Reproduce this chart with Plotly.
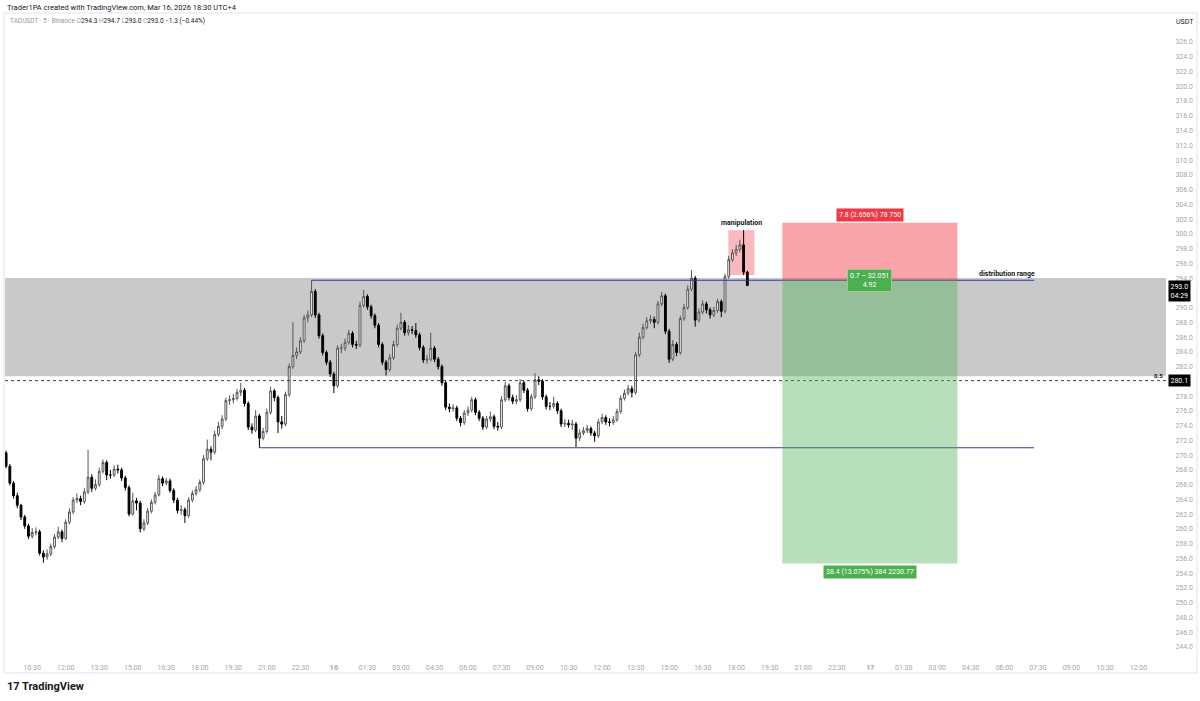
"""
TADUSDT 5m chart (Binance) - distribution range / manipulation short setup.
Recreated from a TradingView snapshot with Plotly.
"""

import pandas as pd
import plotly.graph_objects as go

# ---- candle data (10 minute bars) ----
bar_start = "2026-03-15 09:20"
bar_freq = "10min"

opens = [
    270.3, 268.5, 266.2, 264.5, 263.2, 261.6, 260.4, 259.0, 259.5, 259.6,
    256.7, 256.2, 256.6, 257.6, 258.9, 259.6, 258.7, 260.9, 262.3, 263.9,
    264.1, 263.7, 265.0, 267.0, 265.5, 266.0, 267.8, 269.0, 267.3, 267.3,
    268.1, 268.0, 266.9, 265.6, 262.0, 263.8, 263.5, 260.0, 260.8, 262.4,
    263.6, 264.6, 266.8, 266.2, 266.5, 265.2, 263.9, 262.5, 262.6, 261.8,
    263.9, 264.8, 265.3, 266.3, 269.5, 270.8, 270.4, 272.8, 273.9, 274.9,
    277.4, 277.5, 277.7, 278.5, 278.8, 277.0, 273.8, 273.4, 275.3, 272.3,
    273.2, 275.8, 278.7, 277.8, 274.5, 274.2, 278.2, 282.0, 283.5, 284.0,
    285.5, 288.6, 289.0, 292.2, 289.0, 286.2, 283.9, 282.6, 281.0, 279.4,
    284.5, 284.5, 285.3, 286.5, 285.0, 284.9, 290.3, 291.5, 290.1, 288.9,
    287.6, 285.0, 282.6, 281.6, 283.2, 285.0, 287.2, 288.0, 286.6, 287.0,
    286.9, 286.3, 284.6, 282.9, 283.0, 284.5, 283.0, 282.0, 279.8, 276.5,
    276.3, 276.4, 275.0, 274.4, 275.7, 276.1, 277.5, 275.8, 275.0, 273.8,
    274.9, 275.2, 273.9, 273.8, 277.5, 279.4, 277.8, 277.3, 277.5, 279.8,
    278.8, 276.3, 277.9, 280.2, 280.0, 277.9, 276.6, 276.6, 277.0, 276.0,
    274.2, 274.3, 274.1, 274.2, 272.3, 273.0, 273.3, 273.6, 273.0, 272.6,
    274.5, 275.1, 274.5, 274.4, 274.8, 275.9, 277.7, 278.4, 279.0, 278.5,
    283.6, 286.0, 287.3, 288.2, 288.4, 288.0, 290.5, 291.6, 286.8, 283.0,
    285.0, 283.9, 288.5, 290.0, 292.5, 294.0, 288.3, 289.4, 290.5, 289.7,
    289.0, 289.6, 290.8, 289.5, 294.2, 296.5, 297.4, 297.9, 298.5, 294.8,
]

highs = [
    270.6, 268.8, 266.5, 264.9, 263.4, 261.9, 260.7, 260.1, 260.2, 259.9,
    257.1, 257.2, 258.0, 259.3, 260.3, 259.9, 261.3, 262.8, 264.3, 264.8,
    264.5, 265.5, 270.7, 267.4, 266.7, 268.3, 269.4, 269.3, 268.0, 268.6,
    268.7, 268.3, 267.2, 265.9, 264.9, 264.2, 263.8, 261.3, 262.8, 264.0,
    265.0, 267.3, 267.1, 266.9, 266.8, 265.5, 264.2, 263.2, 262.9, 264.3,
    265.2, 265.8, 266.7, 270.0, 272.1, 271.2, 273.3, 274.5, 275.4, 277.8,
    278.1, 278.3, 279.0, 279.8, 279.1, 277.3, 274.3, 276.1, 275.6, 273.7,
    276.3, 279.3, 279.0, 278.1, 275.3, 278.6, 282.4, 288.0, 284.6, 286.0,
    289.0, 289.6, 293.7, 292.5, 289.3, 286.5, 284.2, 282.9, 281.3, 284.9,
    285.1, 285.8, 287.0, 286.8, 285.5, 290.8, 292.4, 291.8, 290.4, 289.2,
    287.9, 285.3, 282.9, 283.7, 285.5, 287.7, 289.3, 288.3, 287.6, 287.5,
    287.9, 286.6, 284.9, 283.6, 286.6, 284.8, 283.3, 282.3, 280.1, 277.0,
    276.9, 276.7, 275.3, 276.1, 276.6, 277.9, 277.8, 276.1, 275.3, 275.3,
    275.9, 275.5, 274.5, 278.0, 279.9, 279.7, 278.2, 278.1, 280.3, 280.1,
    279.1, 278.3, 281.1, 280.7, 280.3, 278.2, 277.2, 277.9, 277.3, 276.3,
    274.9, 274.8, 274.8, 274.5, 273.5, 273.8, 274.1, 273.9, 273.3, 274.9,
    275.6, 275.4, 275.0, 275.3, 276.3, 278.1, 278.9, 279.5, 279.4, 284.0,
    286.6, 287.8, 288.7, 289.0, 288.8, 290.9, 292.1, 291.9, 287.1, 285.6,
    285.3, 288.9, 290.5, 293.0, 295.1, 294.3, 289.9, 291.0, 290.8, 290.0,
    290.1, 291.2, 291.1, 294.6, 297.0, 297.9, 298.5, 299.2, 300.5, 295.0,
]

lows = [
    268.2, 265.9, 264.1, 262.8, 261.2, 260.0, 258.6, 258.7, 259.1, 256.4,
    255.4, 255.8, 256.3, 257.3, 258.6, 258.2, 258.5, 260.6, 262.0, 263.5,
    263.2, 263.4, 264.7, 265.0, 265.2, 265.7, 267.5, 266.6, 266.8, 267.0,
    267.5, 266.5, 265.2, 261.7, 261.8, 262.5, 259.5, 259.7, 260.5, 262.1,
    263.3, 264.4, 265.8, 265.9, 264.9, 263.5, 262.1, 261.9, 260.8, 261.5,
    263.6, 264.5, 265.0, 266.0, 269.2, 269.3, 270.1, 272.5, 273.5, 274.6,
    276.8, 277.0, 277.4, 278.0, 276.6, 273.4, 272.9, 273.1, 271.0, 272.0,
    272.9, 275.5, 277.3, 273.0, 273.6, 273.9, 277.9, 281.7, 283.0, 283.7,
    285.2, 288.0, 288.7, 288.6, 285.8, 283.5, 282.2, 280.6, 278.4, 279.1,
    283.8, 284.1, 285.0, 284.6, 284.4, 284.6, 290.0, 289.7, 288.5, 287.2,
    284.6, 282.2, 280.8, 281.3, 282.9, 284.7, 286.9, 286.2, 286.2, 286.4,
    285.9, 284.2, 282.5, 282.4, 282.7, 282.6, 281.6, 279.4, 276.1, 275.8,
    275.9, 274.6, 273.9, 274.1, 275.3, 275.8, 275.4, 274.6, 273.4, 273.5,
    274.5, 273.5, 273.3, 273.5, 277.2, 277.4, 276.9, 276.9, 277.2, 278.4,
    275.9, 276.0, 277.6, 279.5, 277.5, 276.2, 276.1, 276.3, 275.6, 273.8,
    273.8, 273.7, 273.4, 271.1, 271.9, 272.7, 273.0, 272.6, 271.8, 272.3,
    274.2, 274.1, 273.9, 274.1, 274.5, 275.6, 277.4, 278.1, 277.8, 278.2,
    283.3, 285.7, 287.0, 287.8, 287.2, 287.7, 290.2, 286.4, 282.5, 282.7,
    283.4, 283.6, 288.2, 289.7, 292.2, 287.4, 288.0, 289.1, 289.2, 288.5,
    288.7, 289.3, 288.7, 289.2, 293.9, 296.2, 297.0, 297.5, 294.4, 292.9,
]

closes = [
    268.5, 266.2, 264.5, 263.2, 261.6, 260.4, 259.0, 259.5, 259.6, 256.7,
    256.2, 256.6, 257.6, 258.9, 259.6, 258.7, 260.9, 262.3, 263.9, 264.1,
    263.7, 265.0, 267.0, 265.5, 266.0, 267.8, 269.0, 267.3, 267.3, 268.1,
    268.0, 266.9, 265.6, 262.0, 263.8, 263.5, 260.0, 260.8, 262.4, 263.6,
    264.6, 266.8, 266.2, 266.5, 265.2, 263.9, 262.5, 262.6, 261.8, 263.9,
    264.8, 265.3, 266.3, 269.5, 270.8, 270.4, 272.8, 273.9, 274.9, 277.4,
    277.5, 277.7, 278.5, 278.8, 277.0, 273.8, 273.4, 275.3, 272.3, 273.2,
    275.8, 278.7, 277.8, 274.5, 274.2, 278.2, 282.0, 283.5, 284.0, 285.5,
    288.6, 289.0, 292.2, 289.0, 286.2, 283.9, 282.6, 281.0, 279.4, 284.5,
    284.5, 285.3, 286.5, 285.0, 284.9, 290.3, 291.5, 290.1, 288.9, 287.6,
    285.0, 282.6, 281.6, 283.2, 285.0, 287.2, 288.0, 286.6, 287.0, 286.9,
    286.3, 284.6, 282.9, 283.0, 284.5, 283.0, 282.0, 279.8, 276.5, 276.3,
    276.4, 275.0, 274.4, 275.7, 276.1, 277.5, 275.8, 275.0, 273.8, 274.9,
    275.2, 273.9, 273.8, 277.5, 279.4, 277.8, 277.3, 277.5, 279.8, 278.8,
    276.3, 277.9, 280.2, 280.0, 277.9, 276.6, 276.6, 277.0, 276.0, 274.2,
    274.3, 274.1, 274.2, 272.3, 273.0, 273.3, 273.6, 273.0, 272.6, 274.5,
    275.1, 274.5, 274.4, 274.8, 275.9, 277.7, 278.4, 279.0, 278.5, 283.6,
    286.0, 287.3, 288.2, 288.4, 288.0, 290.5, 291.6, 286.8, 283.0, 285.0,
    283.9, 288.5, 290.0, 292.5, 294.0, 288.3, 289.4, 290.5, 289.7, 289.0,
    289.6, 290.8, 289.5, 294.2, 296.5, 297.4, 297.9, 298.5, 294.8, 293.0,
]

# price scale labels (292.0 and 280.0 sit under the price tags and are hidden)
price_ticks = [
    244, 246, 248, 250, 252, 254, 256, 258, 260, 262, 264, 266, 268, 270,
    272, 274, 276, 278, 282, 284, 286, 288, 290, 294, 296, 298, 300, 302,
    304, 306, 308, 310, 312, 314, 316, 318, 320, 322, 324, 326,
]

# ---- drawings ----
range_top = 294.0          # grey distribution zone
range_bottom = 280.7
mid_level = 280.1          # 0.5 dashed level
range_high = 293.7         # upper blue line
range_low = 271.0          # lower blue line

entry_price = 293.7        # short position tool
stop_price = 301.5
target_price = 255.3
pos_start = "2026-03-16 20:04"
pos_end = "2026-03-17 03:54"

manip_start = "2026-03-16 17:39"
manip_end = "2026-03-16 18:49"
manip_top = 300.5
manip_bottom = 294.4

last_price = 293.0
x_range = ["2026-03-15 09:17", "2026-03-17 13:14"]
y_range = [242.9, 329.8]

FONT = "Roboto, Arial, sans-serif"
AXIS_GREY = "#a3a6af"
BLUE = "#3535ae"

# plot area in pixels: x 5..1166, y 14..655
PW, PH = 1161, 641

times = pd.date_range(bar_start, periods=len(closes), freq=bar_freq)

fig = go.Figure()

fig.add_trace(go.Candlestick(
    x=times,
    open=opens, high=highs, low=lows, close=closes,
    increasing=dict(line=dict(color="#555555", width=1), fillcolor="#ffffff"),
    decreasing=dict(line=dict(color="#000000", width=1), fillcolor="#000000"),
    whiskerwidth=0,
    showlegend=False,
    hoverinfo="skip",
))

shapes = []

# grey zone across the whole pane
shapes.append(dict(type="rect", xref="paper", yref="y", x0=0, x1=1,
                   y0=range_bottom, y1=range_top, fillcolor="#c9c9c9",
                   line=dict(width=0), layer="below"))

# 0.5 dashed level
shapes.append(dict(type="line", xref="paper", yref="y", x0=0, x1=1,
                   y0=mid_level, y1=mid_level,
                   line=dict(color="#444444", width=1, dash="3px,3px")))

# blue range lines
shapes.append(dict(type="line", x0="2026-03-15 23:00", x1="2026-03-17 07:20",
                   y0=range_high, y1=range_high, line=dict(color=BLUE, width=1.1)))
shapes.append(dict(type="line", x0="2026-03-15 20:40", x1="2026-03-17 07:20",
                   y0=range_low, y1=range_low, line=dict(color=BLUE, width=1.1)))

# short position: risk (red) and reward (green)
shapes.append(dict(type="rect", x0=pos_start, x1=pos_end, y0=entry_price, y1=stop_price,
                   fillcolor="rgba(242,54,69,0.45)", line=dict(width=0)))
shapes.append(dict(type="rect", x0=pos_start, x1=pos_end, y0=target_price, y1=entry_price,
                   fillcolor="rgba(76,175,80,0.40)", line=dict(width=0)))

# manipulation box
shapes.append(dict(type="rect", x0=manip_start, x1=manip_end, y0=manip_bottom, y1=manip_top,
                   fillcolor="rgba(242,54,69,0.35)", line=dict(width=0), layer="below"))

# chart frame
shapes.append(dict(type="rect", xref="paper", yref="paper",
                   x0=-1 / PW, x1=1192 / PW, y0=-18 / PH, y1=1 + 1 / PH,
                   line=dict(color="#e0e3eb", width=1)))

annotations = []

# header lines
annotations.append(dict(
    xref="paper", yref="paper", x=0, y=1, xanchor="left", yanchor="middle", yshift=7,
    text="Trader1PA created with TradingView.com, Mar 16, 2026 18:30 UTC+4",
    showarrow=False, font=dict(family=FONT, size=7.5, color="#131722")))
grey_span = '<span style="color:#9598a1">{}</span>'
annotations.append(dict(
    xref="paper", yref="paper", x=3 / PW, y=1, xanchor="left", yanchor="middle", yshift=-7,
    text=(grey_span.format("TADUSDT · 5 · Binance") + " "
          + grey_span.format("O") + "294.3 " + grey_span.format("H") + "294.7 "
          + grey_span.format("L") + "293.0 " + grey_span.format("C") + "293.0 "
          + "−1.3 (−0.44%)"),
    showarrow=False, font=dict(family=FONT, size=6.5, color="#131722")))

# position labels
pos_mid = "2026-03-16 23:59"
annotations.append(dict(
    x=pos_mid, y=stop_price, yanchor="bottom", yshift=1,
    text="7.8 (2.656%) 78 750", showarrow=False,
    font=dict(family=FONT, size=7, color="white"), bgcolor="#f23645", borderpad=2))
annotations.append(dict(
    x=pos_mid, y=entry_price, yanchor="middle",
    text="0.7 – 32.051<br>4.92", showarrow=False,
    font=dict(family=FONT, size=7, color="white"), bgcolor="#4caf50",
    bordercolor="#8fd08f", borderwidth=1, borderpad=2))
annotations.append(dict(
    x=pos_mid, y=target_price, yanchor="top", yshift=-1,
    text="38.4 (13.075%) 384 2230.77", showarrow=False,
    font=dict(family=FONT, size=7, color="white"), bgcolor="#4caf50", borderpad=2))

# drawing labels
annotations.append(dict(
    x="2026-03-16 18:14", y=manip_top, yanchor="bottom", yshift=1,
    text="<b>manipulation</b>", showarrow=False,
    font=dict(family=FONT, size=7, color="#131722")))
annotations.append(dict(
    x="2026-03-17 06:08", y=range_high, yanchor="bottom", yshift=0,
    text="<b>distribution range</b>", showarrow=False,
    font=dict(family=FONT, size=7, color="#131722")))
annotations.append(dict(
    xref="paper", x=0.999, y=mid_level, xanchor="right", yanchor="bottom",
    text="<b>0.5</b>", showarrow=False,
    font=dict(family=FONT, size=6, color="#131722")))

# price scale tags
annotations.append(dict(
    xref="paper", x=1 + 2 / PW, y=last_price, xanchor="left", yanchor="top", yshift=5,
    text="293.0<br>04:29", showarrow=False, align="center",
    font=dict(family=FONT, size=7, color="white"), bgcolor="#000000", borderpad=1.5))
annotations.append(dict(
    xref="paper", x=1 + 2 / PW, y=mid_level, xanchor="left", yanchor="middle",
    text="280.1", showarrow=False,
    font=dict(family=FONT, size=7, color="white"), bgcolor="#000000", borderpad=1.5))
annotations.append(dict(
    xref="paper", yref="paper", x=1 + 8 / PW, y=1, xanchor="left", yanchor="middle", yshift=-8,
    text="USDT", showarrow=False, font=dict(family=FONT, size=7, color="#131722")))

# TradingView watermark
annotations.append(dict(
    xref="paper", yref="paper", x=0, y=-31 / PH, xanchor="left", yanchor="middle",
    text="<b>17 TradingView</b>", showarrow=False,
    font=dict(family=FONT, size=11, color="#131722")))

# time axis ticks every 90 minutes, day number at midnight
tick_times = pd.date_range("2026-03-15 10:30", "2026-03-17 12:00", freq="90min")
tick_text = []
for t in tick_times:
    if t.hour == 0 and t.minute == 0:
        tick_text.append(f"<b>{t.day}</b>")
    else:
        tick_text.append(t.strftime("%H:%M"))

fig.update_layout(
    width=1200, height=701,
    margin=dict(l=5, r=34, t=14, b=46, autoexpand=False),
    paper_bgcolor="white", plot_bgcolor="white",
    font=dict(family=FONT, size=7, color=AXIS_GREY),
    shapes=shapes,
    annotations=annotations,
    showlegend=False,
    xaxis=dict(
        type="date", range=x_range, automargin=False,
        rangeslider=dict(visible=False),
        tickvals=tick_times, ticktext=tick_text,
        showgrid=False, zeroline=False, showline=False,
        ticks="outside", ticklen=6, tickcolor="rgba(0,0,0,0)",
        tickfont=dict(family=FONT, size=7, color=AXIS_GREY),
    ),
    yaxis=dict(
        side="right", range=y_range, automargin=False,
        tickvals=price_ticks, tickformat=".1f",
        showgrid=False, zeroline=False, showline=False,
        ticks="outside", ticklen=7, tickcolor="rgba(0,0,0,0)",
        tickfont=dict(family=FONT, size=7, color=AXIS_GREY),
    ),
)

# the page body has an 8px default margin; drop it so the figure fills the window
fig.write_html(
    "out.html",
    config={"displayModeBar": False},
    post_script="document.body.style.margin = '0';",
)
